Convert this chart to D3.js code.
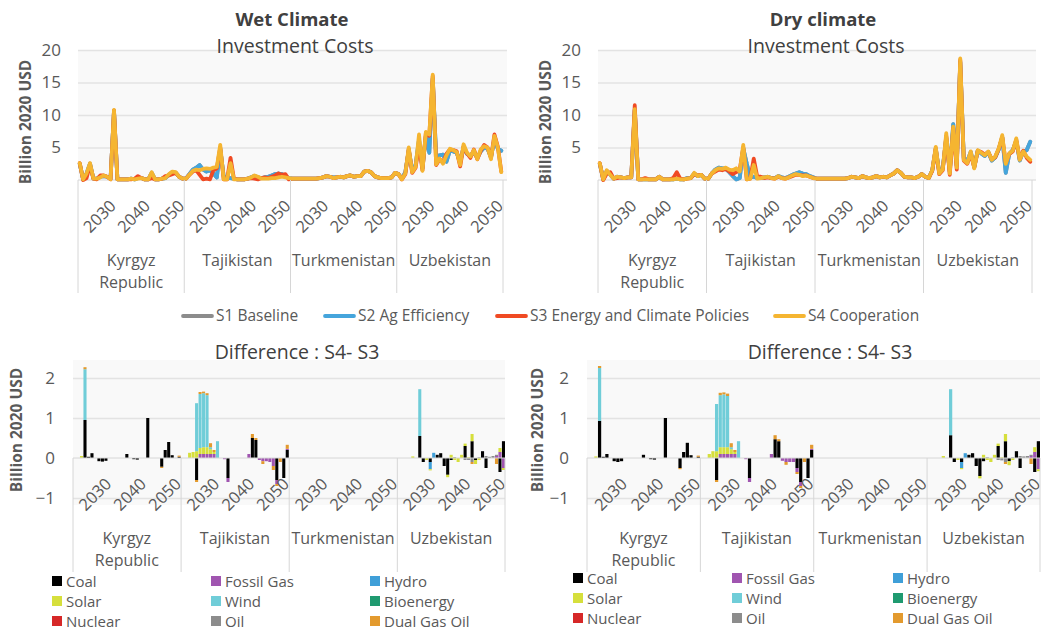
<!DOCTYPE html>
<html>
<head>
<meta charset="utf-8">
<script src="https://cdn.jsdelivr.net/npm/d3@7/dist/d3.min.js"></script>
<style>
  body { margin: 0; background: #ffffff; }
  text { font-family: "Open Sans", "Noto Sans", sans-serif; }
</style>
</head>
<body>
<svg id="chart" width="1044" height="630"></svg>
<script>
// ---- categories -------------------------------------------------------
const countries = ["Kyrgyz Republic", "Tajikistan", "Turkmenistan", "Uzbekistan"];
const countryLabelLines = [["Kyrgyz", "Republic"], ["Tajikistan"], ["Turkmenistan"], ["Uzbekistan"]];
const years = d3.range(2020, 2051);
const yearTickLabels = [2030, 2040, 2050];
const costTicks = [5, 10, 15, 20];
const diffTicks = [-1, 0, 1, 2];

const scenarioNames = ["S1 Baseline", "S2 Ag Efficiency", "S3 Energy and Climate Policies", "S4 Cooperation"];
const scenarioColors = ["#8c8c8c", "#45a5dc", "#f04a23", "#f5b531"];

const techNames = ["Coal", "Fossil Gas", "Hydro", "Solar", "Wind", "Bioenergy", "Nuclear", "Oil", "Dual Gas Oil"];
const techColors = ["#000000", "#a055b0", "#3f9fd8", "#d6df3c", "#70cdd8", "#1f9a70", "#d62828", "#8c8c8c", "#e39a2e"];

// ---- investment costs (billion 2020 USD), rows: KG, TJ, TM, UZ; 2020-2050 ----
const wetS1 = [
  [2.5,0.1,1.0,2.5,0.2,0.2,0.5,0.6,0.5,0.2,10.6,0.1,0.1,0.1,0.1,0.2,0.1,0.3,0.3,0.1,0.1,1.1,0.1,0.1,0.2,0.3,0.8,1.2,1.1,0.5,0.2],
  [0.2,0.9,1.6,1.9,2.3,1.6,1.3,1.5,1.0,0.4,4.8,0.6,0.3,0.3,0.2,0.1,0.1,0.1,0.2,0.4,0.6,0.4,0.3,0.4,0.5,0.7,0.9,1.0,0.9,0.6,0.3],
  [0.2,0.2,0.2,0.2,0.2,0.2,0.2,0.2,0.3,0.4,0.6,0.5,0.4,0.4,0.5,0.4,0.6,0.7,0.5,0.6,0.6,1.3,1.4,1.2,0.6,0.4,0.3,0.3,0.3,0.4,1.1],
  [0.9,0.2,1.2,4.6,1.5,2.3,6.2,1.8,6.8,4.2,15.6,3.6,3.8,3.9,2.8,4.5,4.4,4.2,2.7,5.1,4.0,3.8,4.3,3.4,4.4,5.0,4.8,3.5,6.3,4.8,4.5]
];
const wetS2 = [
  [2.5,0.1,1.0,2.5,0.2,0.2,0.5,0.6,0.5,0.2,10.6,0.1,0.1,0.1,0.1,0.2,0.1,0.3,0.3,0.1,0.1,1.1,0.1,0.1,0.2,0.3,0.8,1.2,1.1,0.5,0.2],
  [0.2,0.9,1.6,1.9,2.3,1.6,1.3,1.5,1.0,0.4,4.8,0.6,0.3,0.3,0.2,0.1,0.1,0.1,0.2,0.4,0.6,0.4,0.3,0.4,0.5,0.7,0.9,1.0,0.9,0.6,0.3],
  [0.2,0.2,0.2,0.2,0.2,0.2,0.2,0.2,0.3,0.4,0.6,0.5,0.4,0.4,0.5,0.4,0.6,0.7,0.5,0.6,0.6,1.3,1.4,1.2,0.6,0.4,0.3,0.3,0.3,0.4,1.1],
  [0.9,0.2,1.2,4.6,1.5,2.3,6.2,1.8,6.8,4.2,15.6,3.6,3.8,3.9,2.8,4.5,4.4,4.2,2.7,5.1,4.0,3.8,4.3,3.4,4.4,5.0,4.8,3.5,6.3,4.8,4.5]
];
const wetS3 = [
  [2.6,0.0,0.3,2.3,0.2,0.1,0.7,0.7,0.5,0.1,10.7,0.1,0.1,0.1,0.1,0.1,0.2,0.6,0.3,0.1,0.1,0.3,0.1,0.1,0.2,0.6,0.7,0.9,1.1,0.5,0.2],
  [0.2,0.8,1.3,1.5,0.8,0.1,0.2,0.1,1.5,1.8,5.0,0.1,0.1,3.4,0.2,0.1,0.1,0.1,0.2,0.3,0.2,0.1,0.3,0.4,0.3,0.5,0.7,1.0,0.8,0.9,0.1],
  [0.2,0.2,0.2,0.2,0.2,0.2,0.2,0.2,0.3,0.4,0.6,0.5,0.3,0.4,0.5,0.4,0.6,0.7,0.5,0.6,0.6,1.3,1.4,1.2,0.6,0.4,0.3,0.3,0.3,0.4,1.1],
  [0.9,0.1,0.9,4.8,1.1,1.9,5.4,1.5,7.3,6.8,16.0,2.3,3.2,2.7,4.0,4.7,4.6,4.4,2.1,5.2,4.1,3.4,4.7,3.2,4.5,5.4,5.0,3.4,7.0,5.1,1.3]
];
const wetS4 = [
  [2.6,0.1,1.0,2.6,0.2,0.2,0.4,0.7,0.5,0.1,10.8,0.1,0.1,0.1,0.1,0.2,0.1,0.2,0.3,0.1,0.1,1.2,0.1,0.1,0.2,0.3,0.9,1.3,1.2,0.5,0.2],
  [0.2,0.8,1.4,1.6,1.5,1.7,1.8,1.7,1.9,2.0,5.4,0.1,0.1,2.6,0.1,0.1,0.1,0.1,0.2,0.4,0.7,0.5,0.2,0.2,0.2,0.3,0.3,0.4,0.5,0.4,0.3],
  [0.2,0.2,0.2,0.2,0.2,0.2,0.2,0.2,0.3,0.4,0.6,0.5,0.3,0.4,0.5,0.4,0.6,0.7,0.5,0.6,0.6,1.3,1.4,1.2,0.6,0.4,0.3,0.3,0.3,0.4,1.1],
  [0.9,0.1,1.0,5.0,1.2,2.0,7.0,1.4,7.4,7.0,16.2,2.4,3.3,2.5,3.8,4.8,4.6,4.3,2.3,5.5,4.2,3.6,4.6,3.2,4.7,5.2,5.0,3.2,6.8,5.0,1.2]
];

const dryS1 = [
  [2.5,0.1,1.4,0.8,0.2,0.5,0.4,0.3,0.4,0.4,10.8,0.1,0.1,0.1,0.1,0.1,0.1,0.5,0.1,0.1,0.1,0.1,0.2,0.1,0.1,0.3,0.3,1.0,0.6,0.8,0.2],
  [0.2,1.0,1.6,1.9,1.8,1.7,1.2,0.6,0.1,0.3,4.9,2.5,0.4,0.5,0.3,0.3,0.4,0.5,0.3,0.3,0.6,0.4,0.3,0.5,0.8,1.0,1.2,1.0,0.9,0.6,0.4],
  [0.2,0.2,0.2,0.2,0.2,0.2,0.2,0.2,0.2,0.3,0.5,0.4,0.3,0.6,0.4,0.3,0.4,0.6,0.4,0.5,0.4,0.7,1.0,1.5,1.1,0.5,0.4,0.4,0.3,0.5,0.9],
  [0.5,0.3,1.5,4.8,1.2,1.8,6.5,1.3,8.6,2.2,18.2,3.4,2.9,4.3,2.0,4.5,4.1,3.7,4.3,3.0,3.5,4.7,6.6,1.1,4.0,4.6,6.0,3.0,4.4,4.6,5.9]
];
const dryS2 = [
  [2.5,0.1,1.4,0.8,0.2,0.5,0.4,0.3,0.4,0.4,10.8,0.1,0.1,0.1,0.1,0.1,0.1,0.5,0.1,0.1,0.1,0.1,0.2,0.1,0.1,0.3,0.3,1.0,0.6,0.8,0.2],
  [0.2,1.0,1.6,1.9,1.8,1.7,1.2,0.6,0.1,0.3,4.9,2.5,0.4,0.5,0.3,0.3,0.4,0.5,0.3,0.3,0.6,0.4,0.3,0.5,0.8,1.0,1.2,1.0,0.9,0.6,0.4],
  [0.2,0.2,0.2,0.2,0.2,0.2,0.2,0.2,0.2,0.3,0.5,0.4,0.3,0.6,0.4,0.3,0.4,0.6,0.4,0.5,0.4,0.7,1.0,1.5,1.1,0.5,0.4,0.4,0.3,0.5,0.9],
  [0.5,0.3,1.5,4.8,1.2,1.8,6.5,1.3,8.6,2.2,18.2,3.4,2.9,4.3,2.0,4.5,4.1,3.7,4.3,3.0,3.5,4.7,6.6,1.1,4.0,4.6,6.0,3.0,4.4,4.6,5.9]
];
const dryS3 = [
  [2.6,0.0,1.0,1.2,0.2,0.3,0.4,0.3,0.4,0.4,11.5,0.1,0.1,0.3,0.1,0.1,0.1,0.5,0.1,0.1,0.1,0.3,1.2,0.2,0.1,0.2,0.3,0.9,0.7,0.8,0.2],
  [0.2,1.0,1.3,1.6,1.5,1.7,1.3,0.9,1.2,1.6,5.0,0.1,0.2,3.3,0.5,0.5,0.3,0.4,0.3,0.2,0.5,0.3,0.2,0.4,0.6,0.8,0.8,0.7,0.7,0.5,0.3],
  [0.2,0.2,0.2,0.2,0.2,0.2,0.2,0.2,0.2,0.3,0.5,0.4,0.3,0.6,0.4,0.3,0.4,0.6,0.4,0.5,0.4,0.7,1.0,1.5,1.1,0.5,0.4,0.4,0.3,0.5,0.9],
  [0.5,0.3,1.4,4.9,0.9,1.5,6.8,0.8,8.0,1.6,18.5,3.0,2.5,4.0,1.9,4.5,4.3,3.9,4.3,3.2,3.5,4.8,6.6,2.6,4.0,4.4,6.2,3.2,4.5,3.4,2.8]
];
const dryS4 = [
  [2.6,0.1,1.5,0.8,0.2,0.5,0.4,0.3,0.4,0.4,10.9,0.1,0.1,0.1,0.1,0.1,0.1,0.5,0.1,0.1,0.1,0.1,0.2,0.1,0.1,0.2,0.3,1.1,0.6,0.8,0.2],
  [0.2,1.0,1.5,1.8,1.7,1.9,1.6,1.5,1.8,1.3,5.4,0.1,0.2,2.3,0.2,0.3,0.4,0.5,0.3,0.2,0.6,0.3,0.2,0.4,0.7,0.9,0.8,0.6,0.7,0.5,0.3],
  [0.2,0.2,0.2,0.2,0.2,0.2,0.2,0.2,0.2,0.3,0.5,0.4,0.3,0.6,0.4,0.3,0.4,0.6,0.4,0.5,0.4,0.7,1.0,1.5,1.1,0.5,0.4,0.4,0.3,0.5,0.9],
  [0.5,0.3,1.5,5.1,1.0,1.6,7.2,1.0,8.2,1.9,18.7,3.1,2.6,4.4,1.8,4.6,4.2,3.8,4.4,3.1,3.6,4.9,6.9,2.5,4.1,4.5,6.4,3.1,4.4,3.6,3.1]
];

// ---- S4 - S3 difference by technology: [country index, year, billion USD] ----
const wetCoal = [
  [0,2023,0.95],[0,2024,0.03],[0,2025,0.12],[0,2027,-0.08],[0,2028,-0.09],[0,2029,-0.07],[0,2035,0.1],[0,2037,-0.03],[0,2038,-0.04],
  [0,2041,1.0],[0,2045,-0.22],[0,2046,0.2],[0,2047,0.4],[0,2048,0.07],[0,2050,0.03],
  [1,2024,-0.55],[1,2033,-0.5],[1,2040,0.5],[1,2041,0.45],[1,2047,-0.55],[1,2049,-0.5],[1,2050,0.2],
  [3,2026,0.55],[3,2027,-0.1],[3,2029,-0.1],[3,2031,0.08],[3,2032,0.12],[3,2033,-0.2],[3,2034,-0.42],[3,2035,-0.05],
  [3,2039,0.3],[3,2041,0.42],[3,2042,-0.05],[3,2044,0.17],[3,2045,-0.25],[3,2049,-0.35],[3,2050,0.42]
];
const wetFossilGas = [
  [1,2025,0.1],[1,2026,0.1],[1,2027,0.1],[1,2028,0.1],[1,2029,0.1],[1,2032,-0.03],[1,2033,-0.1],[1,2039,0.1],
  [1,2042,-0.05],[1,2043,-0.08],[1,2044,-0.08],[1,2045,-0.1],[1,2046,-0.2],[1,2047,-0.1],[1,2050,0.03],
  [3,2048,0.05],[3,2049,0.15],[3,2050,-0.25]
];
const wetHydro = [[3,2029,-0.18],[3,2030,0.13]];
const wetSolar = [
  [0,2022,0.05],
  [1,2022,0.13],[1,2023,0.15],[1,2024,0.17],[1,2025,0.15],[1,2026,0.17],[1,2027,0.17],[1,2028,0.12],[1,2029,0.05],
  [3,2024,0.04],[3,2028,-0.05],[3,2029,-0.03],[3,2034,-0.06],[3,2035,0.08],[3,2036,-0.05],[3,2037,-0.1],[3,2038,0.08],
  [3,2039,0.06],[3,2040,0.02],[3,2041,0.18],[3,2042,-0.1],[3,2043,-0.05],[3,2049,0.1],[3,2050,-0.05]
];
const wetWind = [[0,2023,1.27],[1,2024,1.2],[1,2025,1.35],[1,2026,1.35],[1,2027,1.3],[1,2028,0.05],[1,2030,0.42],[3,2026,1.17]];
const wetBioenergy = [];
const wetNuclear = [];
const wetOil = [[3,2036,0.02],[3,2039,-0.05],[3,2040,-0.05],[3,2041,-0.1],[3,2043,0.02],[3,2045,0.05],[3,2046,0.03],[3,2047,0.05],[3,2048,0.03]];
const wetDualGasOil = [
  [0,2023,0.05],[0,2045,-0.03],[0,2050,0.03],
  [1,2024,-0.05],[1,2025,0.05],[1,2026,0.04],[1,2027,0.05],[1,2028,0.1],[1,2029,0.05],[1,2040,0.1],[1,2041,0.05],
  [1,2043,-0.07],[1,2046,-0.1],[1,2047,-0.05],[1,2048,-0.1],[1,2050,0.1],
  [3,2041,-0.05],[3,2048,-0.15]
];

const dryCoal = [
  [0,2023,0.93],[0,2024,0.03],[0,2025,0.1],[0,2027,-0.08],[0,2028,-0.1],[0,2029,-0.08],[0,2035,0.08],[0,2037,-0.03],[0,2038,-0.04],
  [0,2041,1.0],[0,2045,-0.25],[0,2046,0.15],[0,2047,0.38],[0,2048,0.07],[0,2050,0.03],
  [1,2024,-0.55],[1,2033,-0.5],[1,2040,0.47],[1,2041,0.42],[1,2046,-0.25],[1,2047,-0.6],[1,2049,-0.5],[1,2050,0.2],
  [3,2026,0.57],[3,2027,-0.1],[3,2029,-0.1],[3,2031,0.08],[3,2032,0.12],[3,2033,-0.2],[3,2034,-0.45],[3,2035,-0.08],
  [3,2039,0.3],[3,2041,0.42],[3,2042,-0.08],[3,2044,0.17],[3,2045,-0.25],[3,2049,-0.35],[3,2050,0.42]
];
const dryFossilGas = [
  [1,2025,0.1],[1,2026,0.1],[1,2027,0.1],[1,2028,0.1],[1,2029,0.1],[1,2032,-0.03],[1,2033,-0.1],[1,2039,0.1],
  [1,2042,-0.07],[1,2043,-0.1],[1,2044,-0.1],[1,2045,-0.1],[1,2046,-0.1],[1,2047,-0.1],[1,2050,0.03],
  [3,2048,0.05],[3,2049,0.15],[3,2050,-0.28]
];
const dryHydro = [[3,2029,-0.15],[3,2030,0.12]];
const drySolar = [
  [0,2022,0.04],
  [1,2022,0.1],[1,2023,0.17],[1,2024,0.17],[1,2025,0.17],[1,2026,0.17],[1,2027,0.17],[1,2028,0.12],[1,2029,0.05],
  [3,2024,0.05],[3,2028,-0.05],[3,2029,-0.03],[3,2034,-0.06],[3,2035,0.08],[3,2036,-0.05],[3,2037,-0.1],[3,2038,0.08],
  [3,2039,0.06],[3,2040,0.02],[3,2041,0.18],[3,2042,-0.1],[3,2043,-0.05],[3,2049,0.12],[3,2050,-0.05]
];
const dryWind = [[0,2023,1.32],[1,2024,1.18],[1,2025,1.3],[1,2026,1.32],[1,2027,1.28],[1,2028,0.05],[1,2030,0.42],[3,2026,1.15]];
const dryBioenergy = [];
const dryNuclear = [];
const dryOil = [[3,2036,0.02],[3,2039,-0.05],[3,2040,-0.06],[3,2041,-0.1],[3,2043,0.02],[3,2045,0.05],[3,2046,0.04],[3,2047,0.05],[3,2048,0.03]];
const dryDualGasOil = [
  [0,2023,0.05],[0,2045,-0.03],[0,2050,0.03],
  [1,2024,-0.05],[1,2025,0.06],[1,2026,0.05],[1,2027,0.06],[1,2028,0.1],[1,2029,0.05],[1,2040,0.1],[1,2041,0.05],
  [1,2043,-0.07],[1,2046,-0.05],[1,2047,-0.05],[1,2048,-0.1],[1,2050,0.1],
  [3,2041,-0.05],[3,2048,-0.15]
];

// ---- helpers ----------------------------------------------------------
const svg = d3.select("#chart");
const keys = countries.flatMap(c => years.map(y => c + "|" + y));
const textDark = "#404040";
const textMid = "#595959";

function seriesPoints(rows) {
  return countries.flatMap((c, ci) => years.map((y, yi) => ({ key: c + "|" + y, value: rows[ci][yi] })));
}

function diffRows(sets) {
  const index = new Map(keys.map((k, i) => [k, i]));
  const rows = keys.map(k => { const r = { key: k }; techNames.forEach(t => r[t] = 0); return r; });
  sets.forEach((set, ti) => set.forEach(([ci, yr, v]) => { rows[index.get(countries[ci] + "|" + yr)][techNames[ti]] = v; }));
  return rows;
}

// category axis with years and country groups below a baseline
function categoryAxis(g, x, axisY, x1, sepDepth) {
  const bw = x.bandwidth();
  countries.forEach((c, ci) => {
    const sx = x(c + "|" + years[0]);
    g.append("line").attr("x1", sx).attr("x2", sx).attr("y1", axisY).attr("y2", axisY + sepDepth)
      .attr("stroke", "#d6d6d6").attr("stroke-width", 1);
    yearTickLabels.forEach(yr => {
      const cx = x(c + "|" + yr) + bw / 2;
      g.append("text").attr("transform", `translate(${cx + 3},${axisY + 27}) rotate(-45)`)
        .attr("text-anchor", "end").attr("font-size", 16.5).attr("fill", textMid).text(yr);
    });
    const ex = x(c + "|" + years[years.length - 1]) + bw;
    const mid = (sx + ex) / 2;
    countryLabelLines[ci].forEach((line, li) => {
      g.append("text").attr("x", mid).attr("y", axisY + 86 + li * 22).attr("text-anchor", "middle")
        .attr("font-size", 16).attr("fill", textMid).text(line);
    });
  });
  g.append("line").attr("x1", x1).attr("x2", x1).attr("y1", axisY).attr("y2", axisY + sepDepth)
    .attr("stroke", "#d6d6d6").attr("stroke-width", 1);
}

function yAxisTitle(g, cx, cy) {
  g.append("text").attr("transform", `translate(${cx},${cy}) rotate(-90)`).attr("text-anchor", "middle")
    .attr("font-size", 15.5).attr("font-weight", 700).attr("fill", textMid).text("Billion 2020 USD");
}

// ---- investment cost panels ------------------------------------------
function costPanel(p, scenarios) {
  const g = svg.append("g");
  const x = d3.scaleBand().domain(keys).range([p.x0, p.x1]);
  const y = d3.scaleLinear().domain([0, 20]).range([180, 50]);
  const bw = x.bandwidth();

  g.append("rect").attr("x", p.x0).attr("y", 50).attr("width", p.x1 - p.x0 + 4).attr("height", 130).attr("fill", "#f9f9f9");

  const grid = g.append("g").attr("transform", `translate(${p.x0},0)`)
    .call(d3.axisLeft(y).tickValues(costTicks).tickSize(-(p.x1 - p.x0 + 4)).tickFormat(""));
  grid.select(".domain").remove();
  grid.selectAll(".tick line").attr("stroke", "#e3e3e3").attr("stroke-width", 1.3);

  const labels = g.append("g").attr("transform", `translate(${p.x0},0)`)
    .call(d3.axisLeft(y).tickValues(costTicks).tickSize(0).tickPadding(17));
  labels.select(".domain").remove();
  labels.selectAll("text").attr("font-size", 17).attr("fill", textMid).attr("font-family", "'Open Sans', sans-serif");

  g.append("line").attr("x1", p.x0).attr("x2", p.x1 + 4).attr("y1", y(0)).attr("y2", y(0)).attr("stroke", "#d6d6d6");

  const line = d3.line().x(d => x(d.key) + bw / 2).y(d => y(d.value)).curve(d3.curveLinear);
  scenarios.forEach((rows, si) => {
    g.append("path").datum(seriesPoints(rows)).attr("d", line).attr("fill", "none")
      .attr("stroke", scenarioColors[si]).attr("stroke-width", 3.8)
      .attr("stroke-linejoin", "round").attr("stroke-linecap", "round");
  });

  categoryAxis(g, x, y(0), p.x1, 113);

  g.append("text").attr("x", p.titleX).attr("y", 26).attr("text-anchor", "middle").attr("font-size", 18.5)
    .attr("font-weight", 700).attr("fill", textDark).text(p.title);
  g.append("text").attr("x", p.subX).attr("y", 53).attr("text-anchor", "middle").attr("font-size", 19.5)
    .attr("fill", textDark).text("Investment Costs");
  yAxisTitle(g, p.yTitleX, 122);
}

// ---- difference panels ------------------------------------------------
function diffPanel(p, sets) {
  const g = svg.append("g");
  const x = d3.scaleBand().domain(keys).range([p.x0, p.x1]).paddingInner(0.12);
  const y = d3.scaleLinear().domain([-1, 2.45]).range([498, 360]);

  g.append("rect").attr("x", p.x0).attr("y", 360).attr("width", p.x1 - p.x0).attr("height", 145).attr("fill", "#f9f9f9");

  const gridTicks = diffTicks.filter(v => v !== 0);
  const grid = g.append("g").attr("transform", `translate(${p.x0},0)`)
    .call(d3.axisLeft(y).tickValues(gridTicks).tickSize(-(p.x1 - p.x0)).tickFormat(""));
  grid.select(".domain").remove();
  grid.selectAll(".tick line").attr("stroke", "#e3e3e3").attr("stroke-width", 1.3);

  const labels = g.append("g").attr("transform", `translate(${p.x0},0)`)
    .call(d3.axisLeft(y).tickValues(diffTicks).tickSize(0).tickPadding(18).tickFormat(d3.format("d")));
  labels.select(".domain").remove();
  labels.selectAll("text").attr("font-size", 17).attr("fill", textMid).attr("font-family", "'Open Sans', sans-serif");

  const stacked = d3.stack().keys(techNames).offset(d3.stackOffsetDiverging)(diffRows(sets));
  stacked.forEach((layer, ti) => {
    g.append("g").attr("fill", techColors[ti]).selectAll("rect")
      .data(layer.filter(d => d[1] !== d[0]))
      .join("rect")
      .attr("x", d => x(d.data.key))
      .attr("width", x.bandwidth())
      .attr("y", d => y(Math.max(d[0], d[1])))
      .attr("height", d => Math.abs(y(d[0]) - y(d[1])));
  });

  g.append("line").attr("x1", p.x0).attr("x2", p.x1).attr("y1", y(0)).attr("y2", y(0)).attr("stroke", "#d6d6d6");

  categoryAxis(g, x, y(0), p.x1, 114);

  g.append("text").attr("x", p.titleX).attr("y", 359).attr("text-anchor", "middle").attr("font-size", 19.5)
    .attr("fill", textDark).text("Difference : S4- S3");
  yAxisTitle(g, p.yTitleX, 430);

  // technology legend
  techNames.forEach((t, i) => {
    const lx = p.legendX[i % 3];
    const ly = p.legendY + Math.floor(i / 3) * 20;
    g.append("rect").attr("x", lx).attr("y", ly - 5).attr("width", 10).attr("height", 10).attr("fill", techColors[i]);
    g.append("text").attr("x", lx + 14).attr("y", ly + 5.5).attr("font-size", 15).attr("fill", textMid).text(t);
  });
}

costPanel({ x0: 78, x1: 503, title: "Wet Climate", titleX: 292, subX: 295, yTitleX: 31 }, [wetS1, wetS2, wetS3, wetS4]);
costPanel({ x0: 598, x1: 1032, title: "Dry climate", titleX: 823, subX: 826, yTitleX: 551 }, [dryS1, dryS2, dryS3, dryS4]);

diffPanel({ x0: 73, x1: 505, titleX: 297, yTitleX: 22, legendX: [52, 211, 370], legendY: 581 },
  [wetCoal, wetFossilGas, wetHydro, wetSolar, wetWind, wetBioenergy, wetNuclear, wetOil, wetDualGasOil]);
diffPanel({ x0: 587, x1: 1040, titleX: 830, yTitleX: 543, legendX: [573, 732, 893], legendY: 578 },
  [dryCoal, dryFossilGas, dryHydro, drySolar, dryWind, dryBioenergy, dryNuclear, dryOil, dryDualGasOil]);

// ---- scenario legend ----
const scenarioLegendX = [183, 325, 497, 775];
scenarioNames.forEach((name, i) => {
  const lx = scenarioLegendX[i];
  svg.append("line").attr("x1", lx).attr("x2", lx + 29).attr("y1", 316).attr("y2", 316)
    .attr("stroke", scenarioColors[i]).attr("stroke-width", 3.8).attr("stroke-linecap", "round");
  svg.append("text").attr("x", lx + 33).attr("y", 321).attr("font-size", 15.5).attr("fill", textMid).text(name);
});
</script>
</body>
</html>
